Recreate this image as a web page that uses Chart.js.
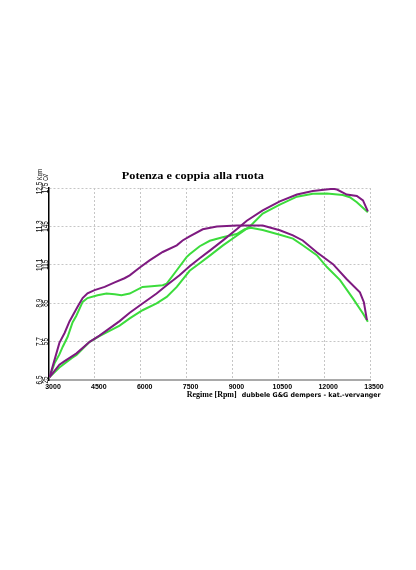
<!DOCTYPE html>
<html>
<head>
<meta charset="utf-8">
<script src="https://cdn.jsdelivr.net/npm/chart.js@4.4.1/dist/chart.umd.min.js"></script>
<style>
html,body{margin:0;padding:0;background:#ffffff;}
#wrap{position:relative;width:416px;height:570px;}
</style>
</head>
<body>
<div id="wrap"><canvas id="c" width="416" height="570"></canvas></div>
<script>
// ---- Text ----
const chartTitle = 'Potenza e coppia alla ruota';
const xTitleA = 'Regime [Rpm]';
const xTitleB = 'dubbele G&G dempers - kat.-vervanger';

// ---- Tick labels ----
const rpmTicks = [3000, 4500, 6000, 7500, 9000, 10500, 12000, 13500];
const kgmTicks = [6.5, 7.7, 8.9, 10.1, 11.3, 12.5];
const kgmLabels = ['6.5', '7.7', '8.9', '10.1', '11.3', '12.5'];
const kgmUnit = 'Kgm';
const cvTicks = [25, 55, 85, 115, 145, 175];
const cvLabels = ['25', '55', '85', '115', '145', '175'];
const cvUnit = 'Cv';

// ---- Series: torque (Kgm), purple run ----
const torquePurpleRpm = [3020, 3340, 3510, 3670, 3930, 4100, 4260, 4490, 4820, 5150, 5470, 5640, 5960, 6290, 6720, 7180, 7370, 7600, 8030, 8490, 9140, 9570, 9990, 10550, 10980, 11300, 11760, 12290, 12740, 13170, 13300, 13400];
const torquePurpleKgm = [6.59, 7.66, 7.97, 8.33, 8.78, 9.06, 9.21, 9.31, 9.41, 9.55, 9.68, 9.77, 10.01, 10.24, 10.50, 10.71, 10.86, 10.99, 11.21, 11.30, 11.33, 11.33, 11.33, 11.18, 11.02, 10.86, 10.49, 10.12, 9.65, 9.24, 8.93, 8.37];

// ---- Series: torque (Kgm), green run ----
const torqueGreenRpm = [3020, 3180, 3340, 3450, 3610, 3770, 3890, 4100, 4260, 4590, 4880, 5150, 5370, 5640, 6060, 6360, 6720, 6850, 7180, 7500, 7600, 7930, 8260, 8680, 9140, 9400, 9600, 9990, 10550, 10980, 11300, 11760, 12090, 12520, 12940, 13270, 13430];
const torqueGreenKgm = [6.59, 7.02, 7.30, 7.54, 7.85, 8.30, 8.50, 8.94, 9.06, 9.15, 9.20, 9.18, 9.15, 9.20, 9.41, 9.43, 9.46, 9.51, 9.93, 10.34, 10.43, 10.68, 10.85, 10.96, 11.06, 11.21, 11.26, 11.19, 11.04, 10.92, 10.71, 10.40, 10.03, 9.62, 9.05, 8.58, 8.32];

// ---- Series: power (Cv), purple run ----
const powerPurpleRpm = [3020, 3340, 3510, 3900, 4330, 4650, 4980, 5310, 5640, 6060, 6520, 6850, 7270, 7600, 7930, 8260, 8680, 9140, 9470, 9990, 10550, 11110, 11630, 12290, 12420, 12740, 13070, 13270, 13430];
const powerPurpleCv = [27.3, 37.0, 39.8, 45.8, 54.8, 59.7, 65.3, 71.0, 77.6, 84.8, 92.6, 99.0, 106.8, 113.8, 120.1, 126.1, 133.9, 142.7, 149.4, 157.5, 164.5, 169.9, 172.7, 174.4, 173.8, 169.9, 168.8, 165.3, 156.7];

// ---- Series: power (Cv), green run ----
const powerGreenRpm = [3020, 3340, 3740, 3900, 4330, 4650, 4980, 5310, 5640, 6060, 6520, 6850, 7180, 7600, 7930, 8260, 8680, 9140, 9570, 9990, 10550, 11110, 11630, 12090, 12610, 12840, 13070, 13430];
const powerGreenCv = [27.3, 34.7, 42.1, 44.5, 54.8, 59.3, 63.4, 67.5, 73.1, 79.5, 84.8, 89.9, 97.7, 110.3, 116.2, 122.2, 130.0, 137.7, 145.0, 155.0, 162.0, 168.2, 170.5, 170.7, 169.5, 167.8, 163.9, 156.1];

const PURPLE = '#7e1a80';
const GREEN = '#3cdc3c';

function pts(xs, ys) { return xs.map((x, i) => ({ x: x, y: ys[i] })); }

const textPlugin = {
  id: 'dynoTexts',
  afterDraw(chart) {
    const ctx = chart.ctx;
    const a = chart.chartArea;
    const yK = chart.scales.yK, yC = chart.scales.yC;
    ctx.save();
    ctx.fillStyle = '#000';
    const sans = '"Liberation Sans", Arial, sans-serif';
    function rot(txt, unit, cx, cy) {
      ctx.save();
      ctx.translate(cx, cy);
      ctx.rotate(-Math.PI / 2);
      ctx.scale(0.76, 1);
      ctx.font = '8.4px ' + sans;
      ctx.textAlign = 'center';
      ctx.textBaseline = 'middle';
      ctx.fillText(txt, 0, 0);
      if (unit) {
        const w = ctx.measureText(txt).width;
        ctx.font = '7px ' + sans;
        ctx.textAlign = 'left';
        ctx.fillText(unit, w / 2 + 2.5, 0);
      }
      ctx.restore();
    }
    kgmTicks.forEach((v, i) => rot(kgmLabels[i], i === kgmTicks.length - 1 ? kgmUnit : '', a.left - 9, yK.getPixelForValue(v)));
    cvTicks.forEach((v, i) => rot(cvLabels[i], i === cvTicks.length - 1 ? cvUnit : '', a.left - 3, yC.getPixelForValue(v)));

    function fit(txt, font, x, y, w) {
      ctx.font = font;
      const m = ctx.measureText(txt).width;
      ctx.save();
      ctx.translate(x, y);
      ctx.scale(w / m, 1);
      ctx.textAlign = 'left';
      ctx.textBaseline = 'alphabetic';
      ctx.fillText(txt, 0, 0);
      ctx.restore();
    }
    const serif = '"Liberation Serif", "Times New Roman", serif';
    fit(chartTitle, 'bold 11px ' + serif, a.left + 72.7, a.top - 9.5, 142.3);
    fit(xTitleA, 'bold 8px ' + serif, a.left + 137.7, a.bottom + 17, 50);
    fit(xTitleB, 'bold 6.5px "DejaVu Sans", Verdana, sans-serif', a.left + 192.7, a.bottom + 17, 139);
    ctx.restore();
  }
};

const lineStyle = { borderWidth: 2, pointRadius: 0, tension: 0, fill: false };

new Chart(document.getElementById('c'), {
  type: 'line',
  data: {
    datasets: [
      Object.assign({ label: 'Coppia (Kgm)', data: pts(torquePurpleRpm, torquePurpleKgm), yAxisID: 'yK', borderColor: PURPLE }, lineStyle),
      Object.assign({ label: 'Potenza (Cv)', data: pts(powerPurpleRpm, powerPurpleCv), yAxisID: 'yC', borderColor: PURPLE }, lineStyle),
      Object.assign({ label: 'Coppia (Kgm) 2', data: pts(torqueGreenRpm, torqueGreenKgm), yAxisID: 'yK', borderColor: GREEN }, lineStyle),
      Object.assign({ label: 'Potenza (Cv) 2', data: pts(powerGreenRpm, powerGreenCv), yAxisID: 'yC', borderColor: GREEN }, lineStyle)
    ]
  },
  options: {
    responsive: false,
    animation: false,
    devicePixelRatio: 1,
    layout: { padding: { left: 49, right: 46, top: 188, bottom: 176 } },
    plugins: { legend: { display: false }, title: { display: false }, tooltip: { enabled: false } },
    scales: {
      x: {
        type: 'linear', min: 3000, max: 13500,
        afterBuildTicks: s => { s.ticks = rpmTicks.map(v => ({ value: v })); },
        afterFit: s => { s.height = 14; },
        grid: { color: c => (c.tick && c.tick.value === 3000) ? 'rgba(0,0,0,0)' : '#c6c6c6', lineWidth: 1, drawTicks: false },
        border: { display: true, color: '#a9a9a9', width: 2, dash: [2, 2] },
        ticks: {
          autoSkip: false, maxRotation: 0, minRotation: 0, padding: 3, labelOffset: 4,
          color: '#000', font: { family: '"Liberation Sans", Arial, sans-serif', size: 7, weight: 'bold' },
          callback: v => String(v)
        }
      },
      yK: {
        type: 'linear', position: 'left', min: 6.5, max: 12.5, display: false,
        afterBuildTicks: s => { s.ticks = kgmTicks.map(v => ({ value: v })); }
      },
      yC: {
        type: 'linear', position: 'left', min: 25, max: 175,
        afterBuildTicks: s => { s.ticks = cvTicks.map(v => ({ value: v })); },
        afterFit: s => { s.width = 0; },
        grid: { color: c => (c.tick && c.tick.value === 25) ? 'rgba(0,0,0,0)' : '#c6c6c6', lineWidth: 1, drawTicks: false },
        border: { display: true, color: '#000', width: 1.5, dash: [2, 2] },
        ticks: { display: false }
      }
    }
  },
  plugins: [textPlugin]
});
</script>
</body>
</html>
